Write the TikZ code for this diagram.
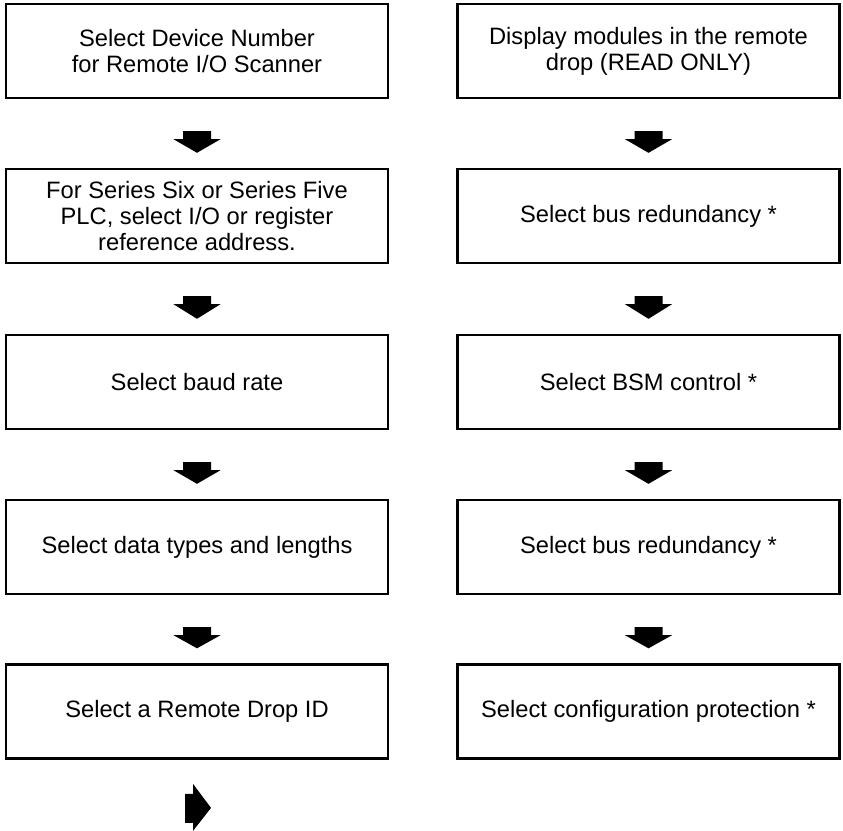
\documentclass[tikz,border=0pt]{standalone}
\usepackage{fontspec}
\setmainfont{Liberation Sans}
\usetikzlibrary{calc}

\newcommand{\blockdown}[2]{%
  \fill ($(#1.south)+(-14,32)$) -- ++(28,0) -- ++(0,8) -- ++(9.5,0)
    -- ($(#2.north)+(0,-15)$) -- ($(#1.south)+(-23.5,40)$) -- ++(9.5,0) -- cycle;
}

\begin{document}
\begin{tikzpicture}[x=1pt,y=-1pt,
  box/.style={draw,line width=2.4pt,minimum width=382pt,minimum height=94pt,
    align=center,inner sep=0pt,font=\fontsize{23.7}{26}\selectfont}]
\useasboundingbox (0,0) rectangle (843,830);
\node[box] (l1) at (197,51) {Select Device Number\\for Remote I/O Scanner};
\node[box] (l2) at (197,216) {For Series Six or Series Five\\PLC, select I/O or register\\reference address.};
\node[box] (l3) at (197,382) {Select baud rate};
\node[box] (l4) at (197,547) {Select data types and lengths};
\node[box] (l5) at (197,711.5) {Select a Remote Drop ID};
\node[box] (r1) at (648.5,51) {Display modules in the remote\\drop (READ ONLY)};
\node[box] (r2) at (648.5,216) {Select bus redundancy *};
\node[box] (r3) at (648.5,382) {Select BSM control *};
\node[box] (r4) at (648.5,547) {Select bus redundancy *};
\node[box] (r5) at (648.5,711.5) {Select configuration protection *};
\foreach \a/\b in {l1/l2,l2/l3,l3/l4,l4/l5,r1/r2,r2/r3,r3/r4,r4/r5}{
  \blockdown{\a}{\b}
}
\coordinate (nxt) at ($(l5.south)+(-12,48.7)$);
\fill (nxt) ++(0,-14.5) -- ++(8,0) -- ++(0,-10) -- ++(18,24) -- ++(-18,23)
  -- ++(0,-8) -- ++(-8,0) -- cycle;
\end{tikzpicture}
\end{document}
